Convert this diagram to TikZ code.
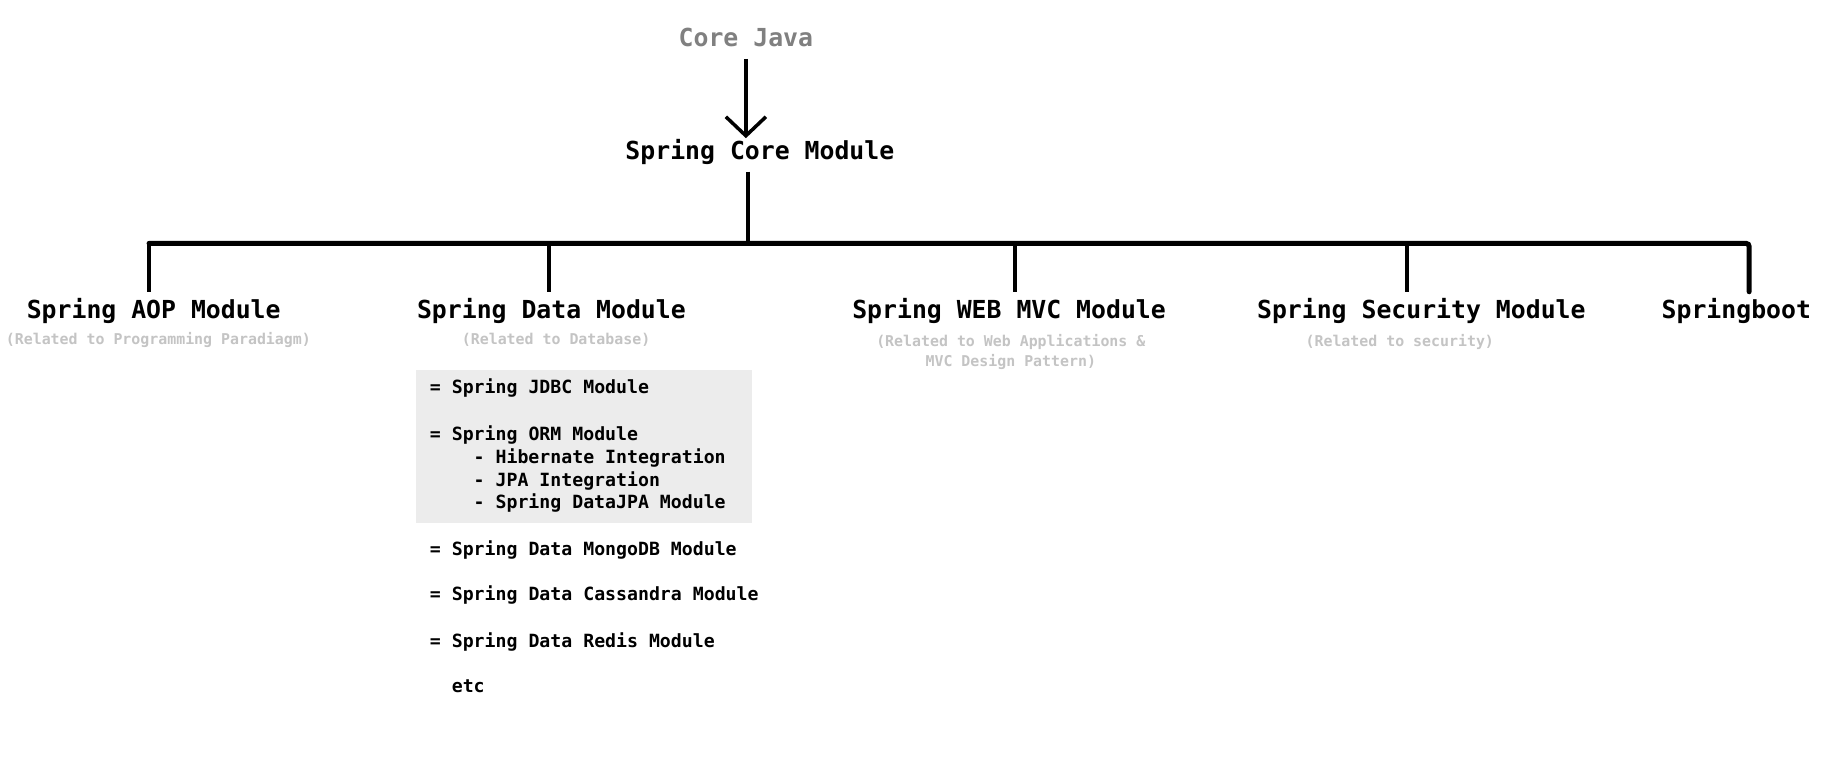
\documentclass[tikz,border=0pt]{standalone}
\usepackage{fontspec}
\newfontfamily\monofnt{DejaVu Sans Mono}
\usetikzlibrary{arrows.meta}
\definecolor{corejava}{RGB}{128,128,128}
\definecolor{subgray}{RGB}{196,196,196}
\definecolor{boxgray}{RGB}{236,236,236}
\begin{document}
\begin{tikzpicture}[x=1.1646pt,y=-1.1646pt,
  heading/.style={font=\monofnt\bfseries\fontsize{24.8}{30}\selectfont, inner sep=0pt, outer ysep=7pt, anchor=mid},
  subtitle/.style={font=\monofnt\bfseries\fontsize{14.9}{19.8}\selectfont, text=subgray, inner sep=0pt, anchor=mid, align=center},
  listitem/.style={font=\monofnt\bfseries\fontsize{18.2}{22}\selectfont, inner sep=0pt, anchor=mid west},
  conn/.style={line width=4pt},
  busline/.style={line width=5pt, line cap=round, rounded corners=3pt}
]
\fill[white] (0,0) rectangle (1568,656.1);
\useasboundingbox (0,0) rectangle (1568,656.1);

% gray box
\fill[boxgray] (357,318) rectangle (646,449);

% main nodes
\node[heading, text=corejava] (cj) at (640.5,38) {Core Java};
\node[heading] (core) at (652.5,135) {Spring Core Module};
\node[heading] (aop) at (132,272) {Spring AOP Module};
\node[heading] (data) at (473.5,272) {Spring Data Module};
\node[heading] (web) at (866.5,272) {Spring WEB MVC Module};
\node[heading] (sec) at (1220.5,272) {Spring Security Module};
\node[heading] (sb) at (1491,272) {Springboot};

% subtitles
\node[subtitle] (aops) at (136,294) {(Related to Programming Paradiagm)};
\node[subtitle] (datas) at (477.5,294) {(Related to Database)};
\node[subtitle, anchor=north] (webs) at (868,287) {(Related to Web Applications \&\\MVC Design Pattern)};
\node[subtitle] (secs) at (1202,295.5) {(Related to security)};

% list
\node[listitem] (l1) at (369,336) {= Spring JDBC Module};
\node[listitem] (l2) at (369,376) {= Spring ORM Module};
\node[listitem] (l3) at (406.6,396) {- Hibernate Integration};
\node[listitem] (l4) at (406.6,416) {- JPA Integration};
\node[listitem] (l5) at (406.6,435) {- Spring DataJPA Module};
\node[listitem] (l6) at (369,475) {= Spring Data MongoDB Module};
\node[listitem] (l7) at (369,514) {= Spring Data Cassandra Module};
\node[listitem] (l8) at (369,554) {= Spring Data Redis Module};
\node[listitem] (l9) at (387.8,593) {etc};

% bus coordinates
\coordinate (bA) at (128,209);
\coordinate (bD) at (471,209);
\coordinate (bC) at (642,209);
\coordinate (bW) at (872,209);
\coordinate (bS) at (1208,209);
\coordinate (bB) at (1502,208.5);

% arrow Core Java -> Spring Core
\draw[line width=3.5pt, shorten <=5pt, shorten >=-6pt, -{Straight Barb[length=19pt,width=40pt,line width=3.5pt]}]
  (cj.south) -- (cj.south |- core.north);

% core to bus
\draw[conn] (bC |- core.south) -- (bC);

% bus
\draw[busline] (bA) -- (bA -| bB) -- (bB |- sb.north);

% drops
\draw[conn] (bA) -- (bA |- aop.north);
\draw[conn] (bD) -- (bD |- data.north);
\draw[conn] (bW) -- (bW |- web.north);
\draw[conn] (bS) -- (bS |- sec.north);
\end{tikzpicture}
\end{document}
